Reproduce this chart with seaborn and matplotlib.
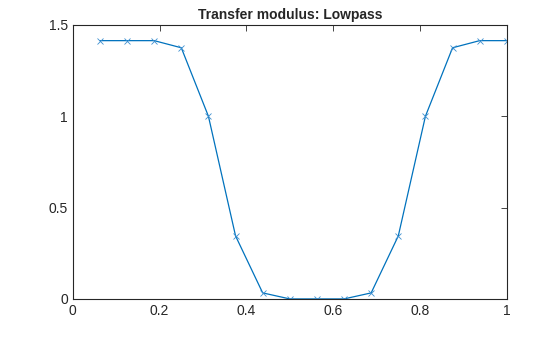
import matplotlib
matplotlib.use("Agg")
import matplotlib.pyplot as plt
import seaborn as sns
import numpy as np
import pandas as pd

sns.set_style("white")
plt.rcParams['font.family'] = ['Liberation Sans', 'DejaVu Sans']

freq = [1/16, 2/16, 3/16, 4/16, 5/16, 6/16, 7/16, 8/16, 9/16, 10/16, 11/16, 12/16, 13/16, 14/16, 15/16, 16/16]
modulus = [1.414, 1.414, 1.414, 1.375, 1.0, 0.345, 0.033, 0.0, 0.0, 0.0, 0.033, 0.345, 1.0, 1.375, 1.414, 1.414]
xticks = [0, 0.2, 0.4, 0.6, 0.8, 1]
xticklabels = ["0", "0.2", "0.4", "0.6", "0.8", "1"]
yticks = [0, 0.5, 1, 1.5]
yticklabels = ["0", "0.5", "1", "1.5"]

df = pd.DataFrame({"f": freq, "m": modulus})

fig = plt.figure(figsize=(5.6, 3.37), dpi=100)
ax = fig.add_axes([0.130, 0.113, 0.775, 0.813])
sns.lineplot(data=df, x="f", y="m", ax=ax, color="#0072BD", marker="x",
             markersize=5, markeredgewidth=0.6, markeredgecolor="#3d8fd0", linewidth=0.9)
ax.set_xlim(0, 1)
ax.set_ylim(0, 1.5)
ax.set_xticks(xticks)
ax.set_xticklabels(xticklabels)
ax.set_yticks(yticks)
ax.set_yticklabels(yticklabels)
ax.set_xlabel("")
ax.set_ylabel("")
ax.tick_params(direction="in", length=4, width=0.6, labelsize=10, colors="#262626",
               top=True, right=True, labelcolor="#262626")
for s in ax.spines.values():
    s.set_visible(True)
    s.set_color("#262626")
    s.set_linewidth(0.8)
ax.set_title("Transfer modulus: Lowpass", fontsize=10, fontweight="bold", pad=4)
fig.savefig("out.png", dpi=100)
